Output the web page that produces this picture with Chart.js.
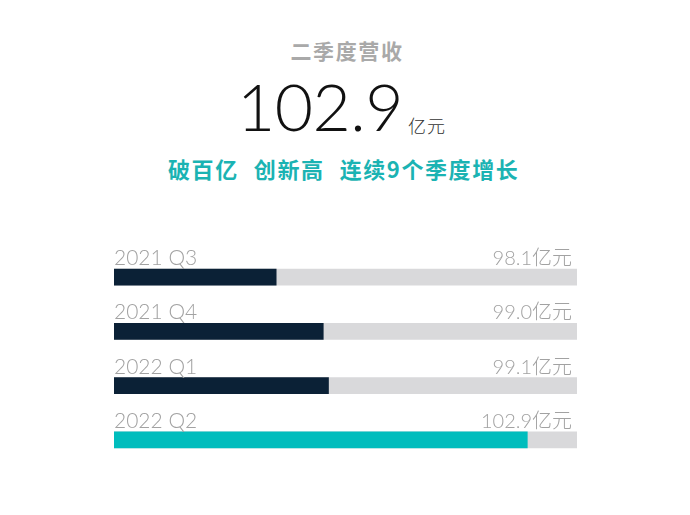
<!DOCTYPE html>
<html>
<head>
<meta charset="utf-8">
<script src="https://cdn.jsdelivr.net/npm/chart.js@4.4.0/dist/chart.umd.min.js"></script>
<style>
  html, body { margin: 0; padding: 0; background: #ffffff; }
  body { width: 690px; height: 515px; position: relative; overflow: hidden; }
  .t1 { position: absolute; left: 2px; width: 690px; top: 35px; text-align: center;
        font-family: "Noto Sans CJK SC", sans-serif; font-weight: 700; font-size: 21px; letter-spacing: 1.6px; color: #a9a9a9; line-height: 30px; }
  .big { position: absolute; left: 237px; top: 66px; font-family: "Lato", "Open Sans", sans-serif; font-weight: 300;
         font-size: 66px; color: #111; line-height: 80px; letter-spacing: -0.5px; }
  .unit { position: absolute; left: 408px; top: 113px; font-family: "Noto Sans CJK SC", sans-serif; font-weight: 300;
          font-size: 18px; letter-spacing: 1px; color: #333; line-height: 24px; }
  .sub { position: absolute; left: 168px; top: 153px; white-space: nowrap;
         font-family: "Noto Sans CJK SC", sans-serif; font-weight: 700; font-size: 22px; letter-spacing: 1.6px; color: #1bb3b3; line-height: 30px; }
  .sub span { display: inline-block; }
  .sub .gap { width: 15px; }
  #wrap { position: absolute; left: 0; top: 0; width: 690px; height: 515px; }
</style>
</head>
<body>
<div class="t1">二季度营收</div>
<div class="big">102.9</div>
<div class="unit">亿元</div>
<div class="sub"><span>破百亿</span><span class="gap"></span><span>创新高</span><span class="gap"></span><span>连续9个季度增长</span></div>
<div id="wrap"><canvas id="c"></canvas></div>
<script>
const categories = ["2021 Q3", "2021 Q4", "2022 Q1", "2022 Q2"];
const revenue = [98.1, 99.0, 99.1, 102.9];
const valueLabels = ["98.1亿元", "99.0亿元", "99.1亿元", "102.9亿元"];
const axisMin = 95;
const axisMax = 103.85;
const barColors = ["#0b2136", "#0b2136", "#0b2136", "#00bdbd"];
const trackColor = "#d9d9db";

const labelPlugin = {
  id: 'barLabels',
  afterDatasetsDraw(chart) {
    const ctx = chart.ctx;
    const meta = chart.getDatasetMeta(0);
    const area = chart.chartArea;
    ctx.save();
    ctx.fillStyle = '#a2a2a2';
    ctx.textBaseline = 'alphabetic';
    meta.data.forEach((bar, i) => {
      const y = bar.y - bar.height / 2 - 4;
      ctx.font = '300 21px "Lato", "Open Sans", sans-serif';
      ctx.textAlign = 'left';
      ctx.fillText(categories[i], area.left, y);
      ctx.textAlign = 'right';
      ctx.font = '300 20px "Lato", "Noto Sans CJK SC", sans-serif';
      ctx.fillText(valueLabels[i], area.right - 5, y);
    });
    ctx.restore();
  }
};

new Chart(document.getElementById('c'), {
  type: 'bar',
  data: {
    labels: categories,
    datasets: [
      { data: revenue, backgroundColor: barColors, barThickness: 16, order: 0, base: axisMin },
      { data: categories.map(() => axisMax), backgroundColor: trackColor, barThickness: 16, order: 1, base: axisMin }
    ]
  },
  options: {
    indexAxis: 'y',
    responsive: true,
    maintainAspectRatio: false,
    animation: false,
    layout: { padding: { left: 114, right: 113, top: 250, bottom: 48 } },
    plugins: { legend: { display: false }, tooltip: { enabled: false } },
    scales: {
      x: { min: axisMin, max: axisMax, display: false, grid: { display: false } },
      y: { stacked: true, display: false, grid: { display: false } }
    }
  },
  plugins: [labelPlugin]
});
</script>
</body>
</html>
